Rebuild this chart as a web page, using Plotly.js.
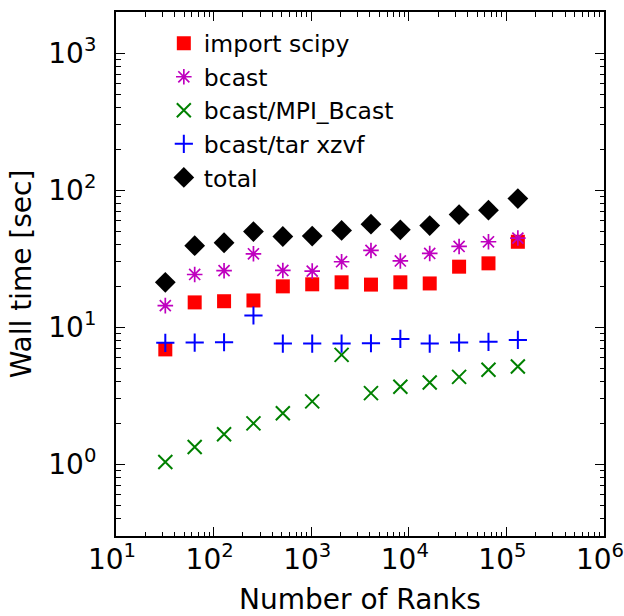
<!DOCTYPE html>
<html>
<head>
<meta charset="utf-8">
<script src="https://cdn.plot.ly/plotly-3.0.1.min.js"></script>
<style>html,body{margin:0;padding:0;background:#fff;}#chart{width:624px;height:616px;}</style>
</head>
<body>
<div id="chart"></div>
<script>
const ranks = [32, 64, 128, 256, 512, 1024, 2048, 4096, 8192, 16384, 32768, 65536, 131072];
const importScipy = [6.9, 15.2, 15.5, 15.7, 19.9, 20.6, 21.3, 20.5, 21.3, 20.9, 27.7, 29.3, 42.1];
const bcast = [14.4, 24.3, 25.9, 34.4, 26.0, 25.7, 30.1, 36.4, 30.5, 34.6, 38.9, 42.1, 44.8];
const mpiBcast = [1.04, 1.34, 1.66, 1.99, 2.36, 2.88, 6.29, 3.31, 3.68, 3.96, 4.35, 4.90, 5.17];
const tarXzvf = [7.70, 7.74, 7.78, 12.2, 7.61, 7.61, 7.61, 7.65, 8.23, 7.61, 7.74, 7.83, 8.09];
const total = [21.3, 39.4, 41.4, 50.0, 46.0, 46.3, 50.9, 56.6, 51.5, 55.3, 66.5, 71.6, 87.0];
const seriesNames = ['import scipy', 'bcast', 'bcast/MPI_Bcast', 'bcast/tar xzvf', 'total'];
const xTickVals = [10, 100, 1000, 10000, 100000, 1000000];
const xTickText = ['10<sup>1</sup>', '10<sup>2</sup>', '10<sup>3</sup>', '10<sup>4</sup>', '10<sup>5</sup>', '10<sup>6</sup>'];
const yTickVals = [1, 10, 100, 1000];
const yTickText = ['10<sup>0</sup>', '10<sup>1</sup>', '10<sup>2</sup>', '10<sup>3</sup>'];

const styles = [
  {symbol: 'square', color: '#ff0000', size: 14, line: {width: 0}},
  {symbol: 'asterisk-open', color: '#bf00bf', size: 13, line: {width: 1.7, color: '#bf00bf'}},
  {symbol: 'x-thin-open', color: '#008000', size: 14, line: {width: 2, color: '#008000'}},
  {symbol: 'cross-thin-open', color: '#0000ff', size: 13, line: {width: 2, color: '#0000ff'}},
  {symbol: 'diamond', color: '#000000', size: 16, line: {width: 0}}
];
const ys = [importScipy, bcast, mpiBcast, tarXzvf, total];
const traces = ys.map((y, i) => ({
  x: ranks, y: y, type: 'scatter', mode: 'markers', name: seriesNames[i],
  marker: styles[i]
}));

const font = {family: 'DejaVu Sans, sans-serif', color: '#000'};
const axisCommon = {
  type: 'log', showgrid: false, zeroline: false,
  showline: true, linecolor: '#000', linewidth: 2, mirror: 'allticks',
  ticks: 'inside', ticklen: 9, tickwidth: 1.2, tickcolor: '#000',
  ticklabeloverflow: 'allow',
  tickfont: {family: font.family, size: 28, color: '#000'},
  minor: {ticks: 'inside', ticklen: 4.5, tickwidth: 1, tickcolor: '#000', dtick: 'D1', showgrid: false}
};
const layout = {
  width: 624, height: 616,
  margin: {l: 116, r: 20, t: 12, b: 80},
  paper_bgcolor: '#fff', plot_bgcolor: '#fff',
  font: font,
  showlegend: true,
  legend: {x: 0.098, y: 0.982, xanchor: 'left', yanchor: 'top', bgcolor: 'rgba(0,0,0,0)',
           font: {family: font.family, size: 23.5, color: '#000'}},
  xaxis: Object.assign({}, axisCommon, {
    range: [0.9999, 6.0001], tickvals: xTickVals, ticktext: xTickText, ticklabelstandoff: -3, ticklabelshift: -4,
    title: {text: 'Number of Ranks', font: {family: font.family, size: 28, color: '#000'}, standoff: 30}
  }),
  yaxis: Object.assign({}, axisCommon, {
    range: [Math.log10(0.3), Math.log10(2000)], tickvals: yTickVals, ticktext: yTickText, ticklabelstandoff: 12,
    title: {text: 'Wall time [sec]', font: {family: font.family, size: 28, color: '#000'}, standoff: 8}
  })
};
Plotly.newPlot('chart', traces, layout, {displayModeBar: false, staticPlot: true});
</script>
</body>
</html>
